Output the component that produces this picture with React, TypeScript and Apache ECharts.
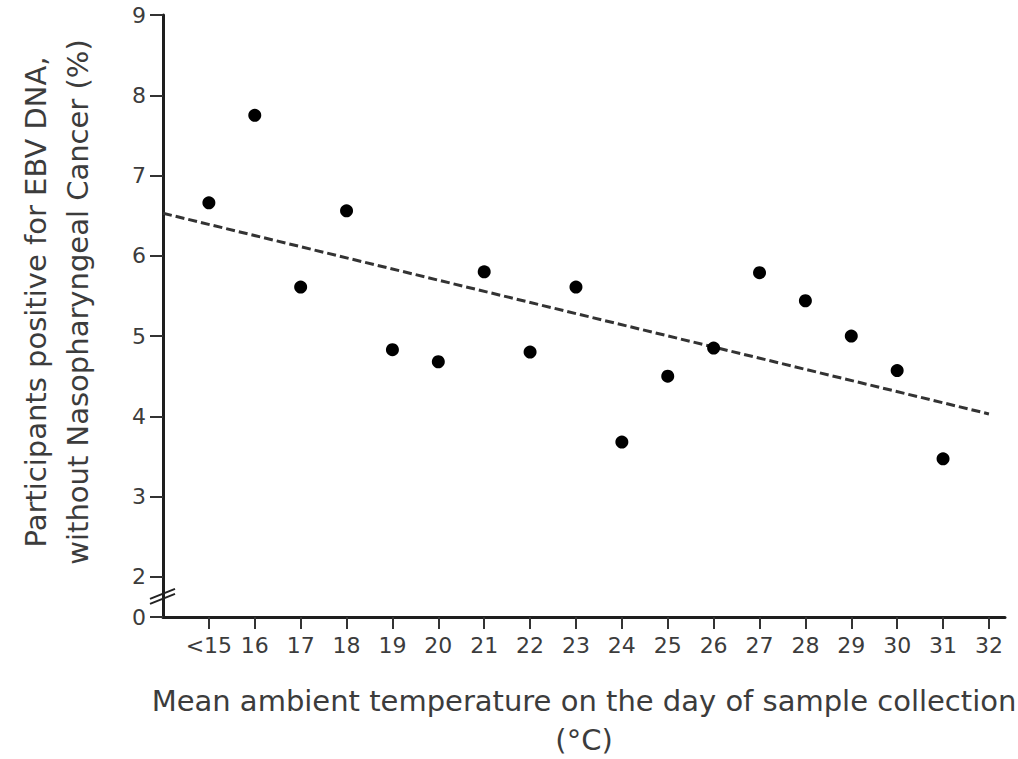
import React, { useEffect, useRef } from "react";
import * as echarts from "echarts";

// Data
const xTicks = [15, 16, 17, 18, 19, 20, 21, 22, 23, 24, 25, 26, 27, 28, 29, 30, 31, 32];
const xTickLabels = ["<15", "16", "17", "18", "19", "20", "21", "22", "23", "24", "25", "26", "27", "28", "29", "30", "31", "32"];
const temps = [15, 16, 17, 18, 19, 20, 21, 22, 23, 24, 25, 26, 27, 28, 29, 30, 31];
const positivePct = [6.66, 7.75, 5.61, 6.56, 4.83, 4.68, 5.8, 4.8, 5.61, 3.68, 4.5, 4.85, 5.79, 5.44, 5.0, 4.57, 3.47];
const yTicks = [1.5, 2, 3, 4, 5, 6, 7, 8, 9];
const yTickLabels = ["0", "2", "3", "4", "5", "6", "7", "8", "9"];
const trendX = [14, 32];
const trendY = [6.53, 4.03];

const FONT = "'DejaVu Sans', Verdana, sans-serif";
const TEXT = "#3c3c3c";

export default function App() {
  const ref = useRef<HTMLDivElement>(null);
  useEffect(() => {
    if (!ref.current) return;
    const chart = echarts.init(ref.current, undefined, { renderer: "svg" });
    const option: any = {
      animation: false,
      backgroundColor: "#ffffff",
      grid: { left: 163, right: 13, top: 15, bottom: 142, containLabel: false },
      xAxis: {
        type: "value",
        min: 14,
        max: 32.35,
        axisLine: { show: true, lineStyle: { color: "#1e1e1e", width: 3 } },
        axisTick: { show: true, customValues: xTicks, length: 12, lineStyle: { color: "#333", width: 2 } },
        axisLabel: {
          customValues: xTicks,
          formatter: (v: number) => xTickLabels[xTicks.indexOf(v)] ?? "",
          fontSize: 22,
          fontFamily: FONT,
          color: TEXT,
          margin: 17,
        },
        splitLine: { show: false },
      },
      yAxis: {
        type: "value",
        min: 1.5,
        max: 9,
        axisLine: { show: true, lineStyle: { color: "#1e1e1e", width: 3 } },
        axisTick: { show: true, customValues: yTicks, length: 13, lineStyle: { color: "#333", width: 2 } },
        axisLabel: {
          customValues: yTicks,
          formatter: (v: number) => yTickLabels[yTicks.indexOf(v)] ?? "",
          fontSize: 22,
          fontFamily: FONT,
          color: TEXT,
          margin: 17,
        },
        splitLine: { show: false },
      },
      series: [
        {
          type: "line",
          data: trendX.map((x, i) => [x, trendY[i]]),
          symbol: "none",
          lineStyle: { color: "#333", width: 3, type: [9, 4] },
          z: 1,
        },
        {
          type: "scatter",
          data: temps.map((t, i) => [t, positivePct[i]]),
          symbolSize: 13,
          itemStyle: { color: "#000", opacity: 1 },
          z: 2,
        },
      ],
    };
    chart.setOption(option);

    const p = chart.convertToPixel({ gridIndex: 0 }, [14, 1.75]) as number[];
    const gx = (163 + 1005) / 2;
    chart.setOption({
      graphic: [
        {
          type: "line",
          shape: { x1: p[0] - 13, y1: p[1] + 2, x2: p[0] + 12, y2: p[1] - 8 },
          style: { stroke: "#222", lineWidth: 2 },
          z: 10,
        },
        {
          type: "line",
          shape: { x1: p[0] - 13, y1: p[1] + 7, x2: p[0] + 12, y2: p[1] - 3 },
          style: { stroke: "#222", lineWidth: 2 },
          z: 10,
        },
        {
          type: "text",
          x: 36,
          y: 302,
          rotation: Math.PI / 2,
          style: {
            text: "Participants positive for EBV DNA,",
            font: `29px ${FONT}`,
            fill: TEXT,
            textAlign: "center",
            textVerticalAlign: "middle",
          },
        },
        {
          type: "text",
          x: 78,
          y: 302,
          rotation: Math.PI / 2,
          style: {
            text: "without Nasopharyngeal Cancer (%)",
            font: `29px ${FONT}`,
            fill: TEXT,
            textAlign: "center",
            textVerticalAlign: "middle",
          },
        },
        {
          type: "text",
          x: gx,
          y: 701,
          style: {
            text: "Mean ambient temperature on the day of sample collection",
            font: `29px ${FONT}`,
            fill: TEXT,
            textAlign: "center",
            textVerticalAlign: "middle",
          },
        },
        {
          type: "text",
          x: gx,
          y: 740,
          style: {
            text: "(°C)",
            font: `29px ${FONT}`,
            fill: TEXT,
            textAlign: "center",
            textVerticalAlign: "middle",
          },
        },
      ],
    });
    return () => chart.dispose();
  }, []);
  return <div ref={ref} style={{ width: 1018, height: 759, position: "absolute", left: 0, top: 0 }} />;
}
